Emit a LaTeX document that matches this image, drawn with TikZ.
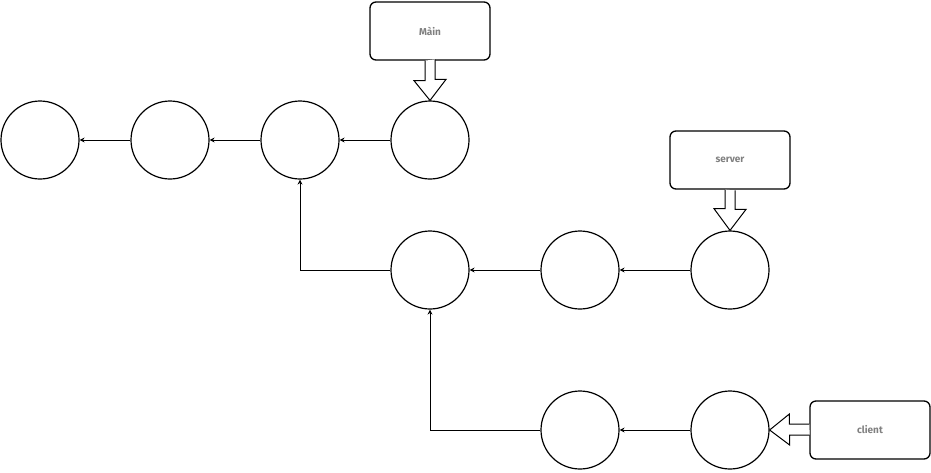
\documentclass[tikz,border=0pt]{standalone}
\usepackage{fontspec}
\setmainfont{Fira Sans}
\usetikzlibrary{arrows.meta}
\begin{document}
\begin{tikzpicture}[x=1pt,y=-1pt,
  blob/.style={circle,draw,line width=1.2pt,minimum size=78pt,inner sep=0pt},
  tag/.style={draw,line width=1.3pt,rounded corners=6pt,minimum width=120pt,minimum height=58pt,inner sep=0pt,font=\fontsize{10}{11}\selectfont\bfseries,text=black!50},
  link/.style={line width=0.9pt,-{Stealth[open,length=5pt,width=5pt]}},
  hollow/.style={line width=1pt,fill=white,line join=miter}]
\useasboundingbox (0,0) rectangle (931,472);
\node[blob] (c1) at (40,140) {};
\node[blob] (c2) at (170,140) {};
\node[blob] (c3) at (300,140) {};
\node[blob] (c4) at (430,140) {};
\node[blob] (c5) at (430,270) {};
\node[blob] (c6) at (580,270) {};
\node[blob] (c7) at (730,270) {};
\node[blob] (c8) at (580,430) {};
\node[blob] (c9) at (730,430) {};
\node[tag] (main) at (430,31) {Màin};
\node[tag] (server) at (730,160) {server};
\node[tag] (client) at (870,430) {client};
\draw[link] (c4.west) -- (c3.east);
\draw[link] (c3.west) -- (c2.east);
\draw[link] (c2.west) -- (c1.east);
\draw[link] (c5.west) -| (c3.south);
\draw[link] (c7.west) -- (c6.east);
\draw[link] (c6.west) -- (c5.east);
\draw[link] (c9.west) -- (c8.east);
\draw[link] (c8.west) -| (c5.south);
% hollow block arrows
\draw[hollow] (main.south) ++(-5,0) -- ++(0,20) -- ++(-11,0) -- (c4.north) -- ++(16,-21) -- ++(-11,0) -- ++(0,-20);
\draw[hollow] (server.south) ++(-5,0) -- ++(0,19) -- ++(-11,0) -- (c7.north) -- ++(16,-21) -- ++(-11,0) -- ++(0,-19);
\draw[hollow] (client.west) ++(0,-6) -- ++(-20,0) -- ++(0,-10) -- (c9.east) -- ++(20,15) -- ++(0,-10) -- ++(20,0);
\end{tikzpicture}
\end{document}
